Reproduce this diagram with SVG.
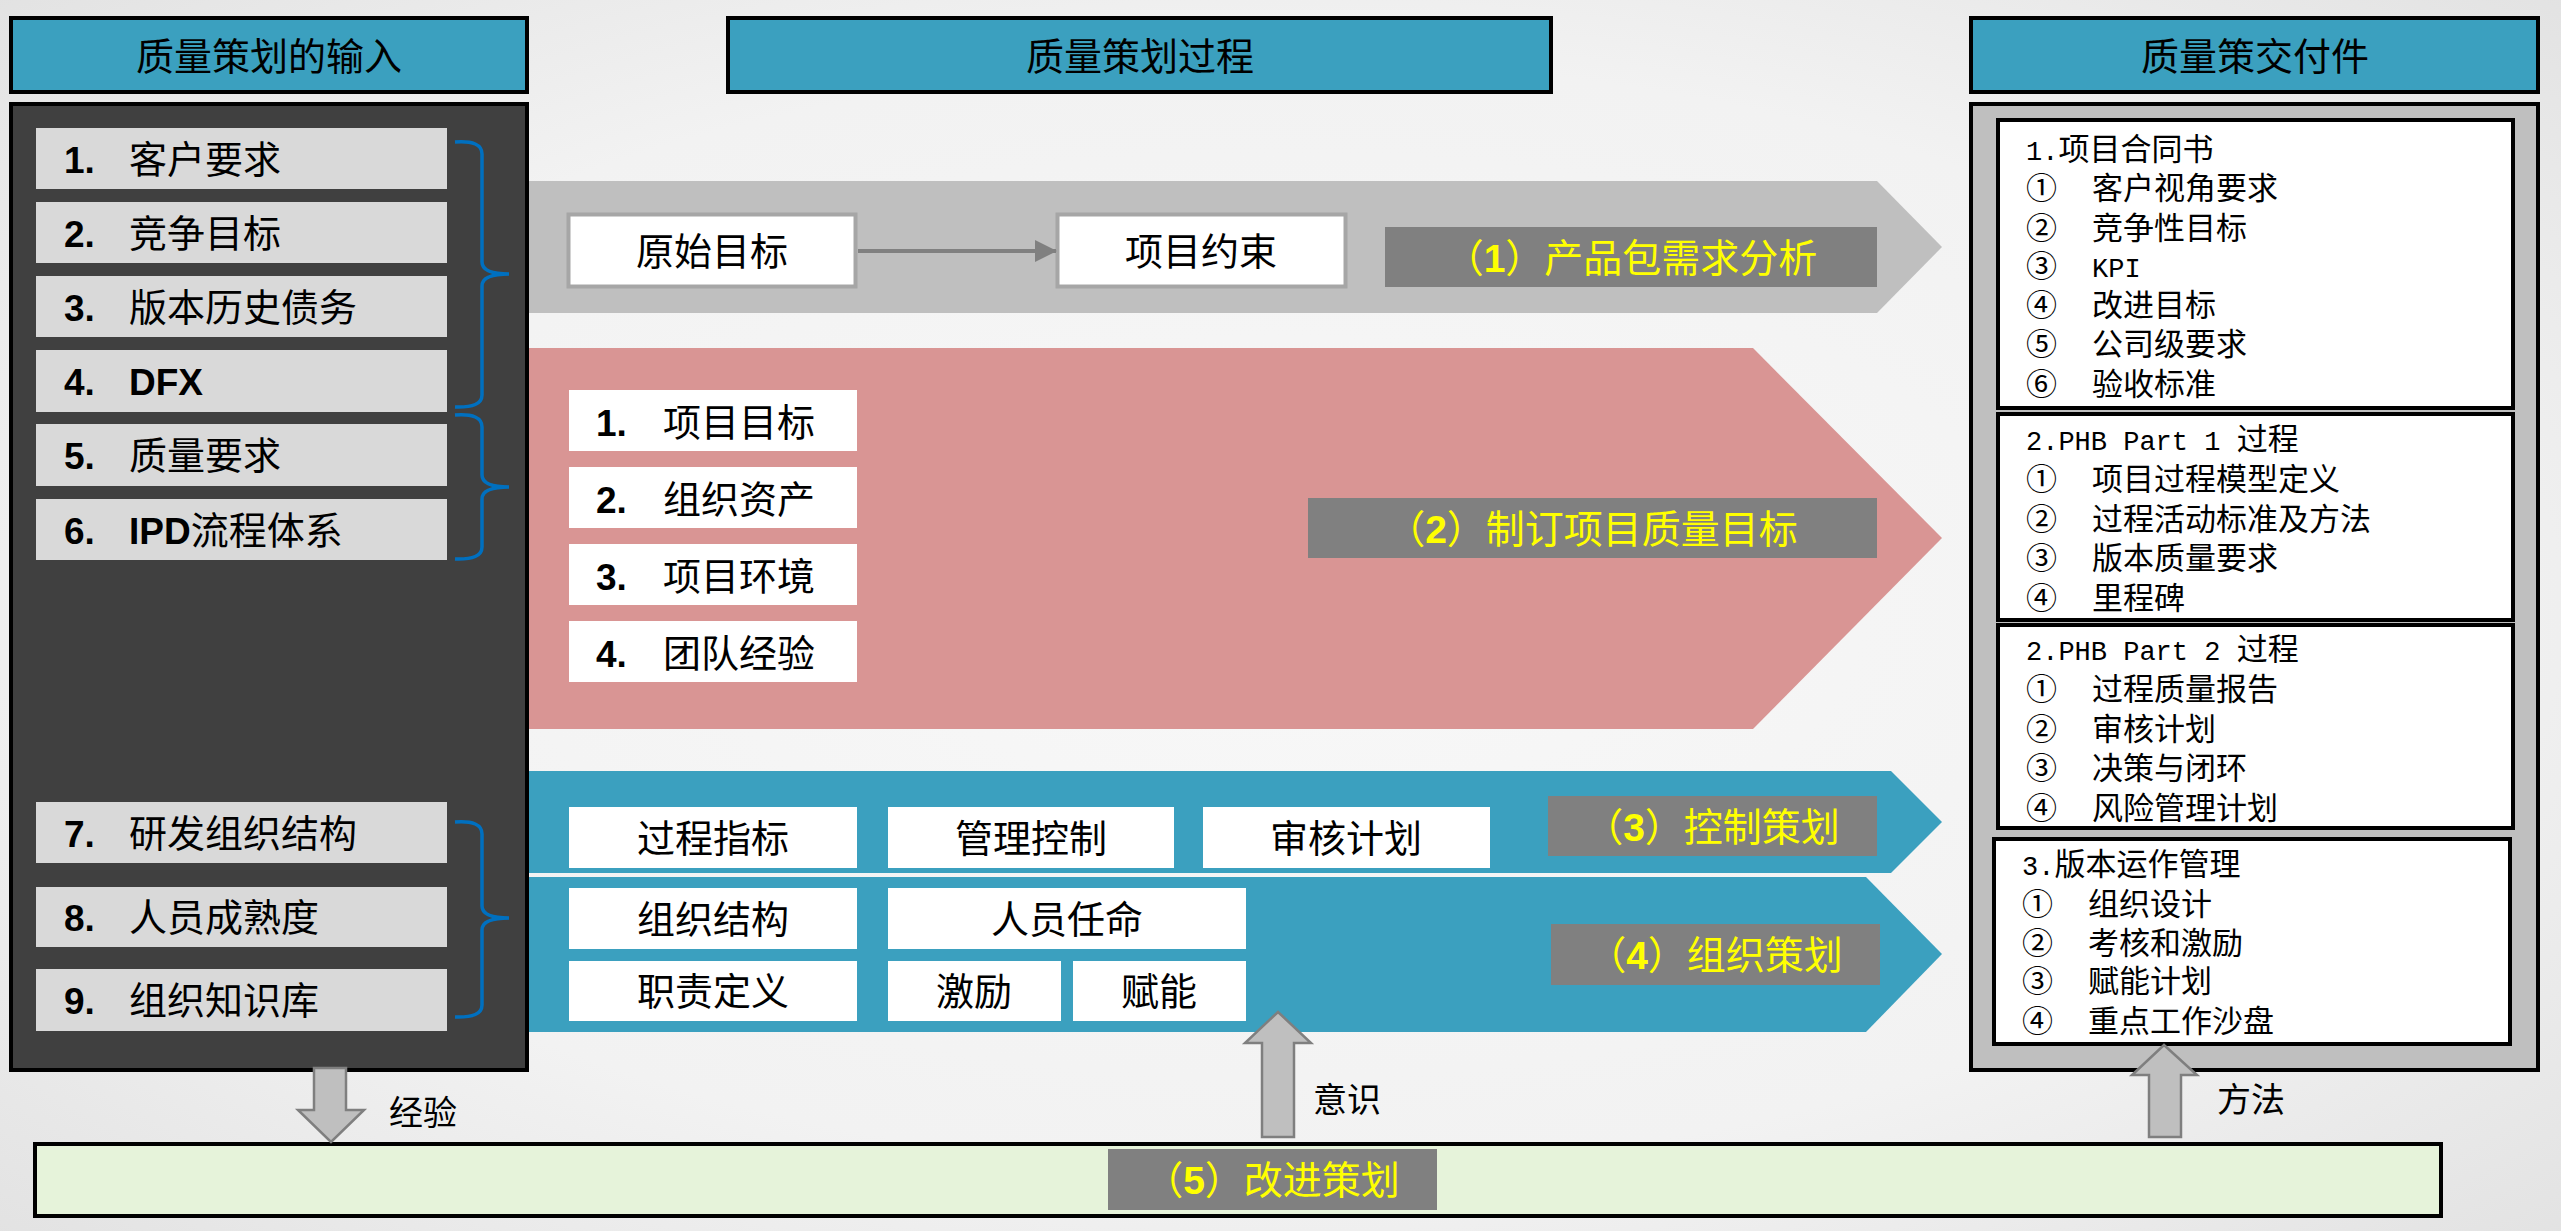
<svg xmlns="http://www.w3.org/2000/svg" width="2561" height="1231" viewBox="0 0 2561 1231">
<defs>
<radialGradient id="bg" cx="0.5" cy="0.5" r="0.75">
<stop offset="0" stop-color="#F8F8F8"/>
<stop offset="0.6" stop-color="#F2F2F2"/>
<stop offset="1" stop-color="#E0E0E0"/>
</radialGradient>
<marker id="ah" markerWidth="22" markerHeight="22" refX="21" refY="11" orient="auto" markerUnits="userSpaceOnUse">
<path d="M0,0 L22,11 L0,22 Z" fill="#808080"/>
</marker>
<style>
.cn{font-family:"Noto Sans CJK SC","Liberation Sans",sans-serif;fill:#000}
.hd{fill:#3BA0BF;stroke:#000;stroke-width:4}
.hdt{font-size:38px;text-anchor:middle}
.item{fill:#D9D9D9}
.it{font-size:38px}
.num{font-family:"Liberation Sans",Arial,sans-serif;font-weight:bold;font-size:37px}
.wb{fill:#FFFFFF}
.wt{font-size:38px;text-anchor:middle}
.lab{fill:#808080}
.lt{font-size:39px;text-anchor:middle;fill:#FFFF00}
.ln{font-family:"Liberation Sans",Arial,sans-serif;font-weight:bold;fill:#FFFF00}
.dbox{fill:#FFFFFF;stroke:#000;stroke-width:4}
.dt{font-size:31px}
.mono{font-family:"Liberation Mono","Courier New",monospace;font-size:27px}
.brace{fill:none;stroke:#0070C0;stroke-width:3.5}
.blk{fill:#BFBFBF;stroke:#7F7F7F;stroke-width:2.5}
.at{font-size:34px}
</style>
</defs>
<rect x="0" y="0" width="2561" height="1231" fill="url(#bg)"/>

<!-- process arrows -->
<g id="bands">
<polygon points="528,181 1877,181 1942,247 1877,313 528,313" fill="#BFBFBF"/>
<polygon points="528,348 1753,348 1942,538 1753,729 528,729" fill="#D99594"/>
<polygon points="528,771 1891,771 1942,822 1891,873 528,873" fill="#3BA0BF"/>
<polygon points="528,877 1866,877 1942,954 1866,1032 528,1032" fill="#3BA0BF"/>
</g>

<!-- headers -->
<g id="header-input"><rect class="hd" x="11" y="18" width="516" height="74"/><text class="cn hdt" x="269" y="70">质量策划的输入</text></g>
<g id="header-process"><rect class="hd" x="728" y="18" width="823" height="74"/><text class="cn hdt" x="1140" y="70">质量策划过程</text></g>
<g id="header-output"><rect class="hd" x="1971" y="18" width="567" height="74"/><text class="cn hdt" x="2255" y="70">质量策交付件</text></g>

<!-- input panel -->
<g id="input-panel">
<rect x="11" y="104" width="516" height="966" fill="#404040" stroke="#000" stroke-width="4"/>
<g id="in1"><rect class="item" x="36" y="128" width="411" height="61"/><text class="cn it" y="173"><tspan class="num" x="64">1.</tspan><tspan x="129">客户要求</tspan></text></g>
<g id="in2"><rect class="item" x="36" y="202" width="411" height="61"/><text class="cn it" y="247"><tspan class="num" x="64">2.</tspan><tspan x="129">竞争目标</tspan></text></g>
<g id="in3"><rect class="item" x="36" y="276" width="411" height="61"/><text class="cn it" y="321"><tspan class="num" x="64">3.</tspan><tspan x="129">版本历史债务</tspan></text></g>
<g id="in4"><rect class="item" x="36" y="350" width="411" height="62"/><text class="cn it" y="395"><tspan class="num" x="64">4.</tspan><tspan class="num" x="129">DFX</tspan></text></g>
<g id="in5"><rect class="item" x="36" y="424" width="411" height="62"/><text class="cn it" y="469"><tspan class="num" x="64">5.</tspan><tspan x="129">质量要求</tspan></text></g>
<g id="in6"><rect class="item" x="36" y="499" width="411" height="61"/><text class="cn it" y="544"><tspan class="num" x="64">6.</tspan><tspan class="num" x="129">IPD</tspan><tspan>流程体系</tspan></text></g>
<g id="in7"><rect class="item" x="36" y="802" width="411" height="61"/><text class="cn it" y="847"><tspan class="num" x="64">7.</tspan><tspan x="129">研发组织结构</tspan></text></g>
<g id="in8"><rect class="item" x="36" y="887" width="411" height="60"/><text class="cn it" y="931"><tspan class="num" x="64">8.</tspan><tspan x="129">人员成熟度</tspan></text></g>
<g id="in9"><rect class="item" x="36" y="969" width="411" height="62"/><text class="cn it" y="1014"><tspan class="num" x="64">9.</tspan><tspan x="129">组织知识库</tspan></text></g>
</g>

<!-- output panel -->
<g id="output-panel">
<rect x="1971" y="104" width="567" height="966" fill="#BFBFBF" stroke="#000" stroke-width="4"/>
<g id="out1"><rect class="dbox" x="1998" y="120" width="515" height="288"/>
<text class="cn dt"><tspan class="mono" x="2026" y="160">1.</tspan><tspan>项目合同书</tspan></text>
<text class="cn dt" y="199"><tspan x="2026">①</tspan><tspan x="2092">客户视角要求</tspan></text>
<text class="cn dt" y="239"><tspan x="2026">②</tspan><tspan x="2092">竞争性目标</tspan></text>
<text class="cn dt" y="277"><tspan x="2026">③</tspan><tspan x="2092" class="mono">KPI</tspan></text>
<text class="cn dt" y="316"><tspan x="2026">④</tspan><tspan x="2092">改进目标</tspan></text>
<text class="cn dt" y="355"><tspan x="2026">⑤</tspan><tspan x="2092">公司级要求</tspan></text>
<text class="cn dt" y="395"><tspan x="2026">⑥</tspan><tspan x="2092">验收标准</tspan></text>
</g>
<g id="out2"><rect class="dbox" x="1998" y="414" width="515" height="206"/>
<text class="cn dt" y="450"><tspan class="mono" x="2026">2.PHB Part 1 </tspan><tspan>过程</tspan></text>
<text class="cn dt" y="490"><tspan x="2026">①</tspan><tspan x="2092">项目过程模型定义</tspan></text>
<text class="cn dt" y="530"><tspan x="2026">②</tspan><tspan x="2092">过程活动标准及方法</tspan></text>
<text class="cn dt" y="569"><tspan x="2026">③</tspan><tspan x="2092">版本质量要求</tspan></text>
<text class="cn dt" y="609"><tspan x="2026">④</tspan><tspan x="2092">里程碑</tspan></text>
</g>
<g id="out3"><rect class="dbox" x="1998" y="625" width="515" height="203"/>
<text class="cn dt" y="660"><tspan class="mono" x="2026">2.PHB Part 2 </tspan><tspan>过程</tspan></text>
<text class="cn dt" y="700"><tspan x="2026">①</tspan><tspan x="2092">过程质量报告</tspan></text>
<text class="cn dt" y="740"><tspan x="2026">②</tspan><tspan x="2092">审核计划</tspan></text>
<text class="cn dt" y="779"><tspan x="2026">③</tspan><tspan x="2092">决策与闭环</tspan></text>
<text class="cn dt" y="819"><tspan x="2026">④</tspan><tspan x="2092">风险管理计划</tspan></text>
</g>
<g id="out4"><rect class="dbox" x="1994" y="839" width="516" height="205"/>
<text class="cn dt" y="875"><tspan class="mono" x="2022">3.</tspan><tspan>版本运作管理</tspan></text>
<text class="cn dt" y="915"><tspan x="2022">①</tspan><tspan x="2088">组织设计</tspan></text>
<text class="cn dt" y="954"><tspan x="2022">②</tspan><tspan x="2088">考核和激励</tspan></text>
<text class="cn dt" y="992"><tspan x="2022">③</tspan><tspan x="2088">赋能计划</tspan></text>
<text class="cn dt" y="1032"><tspan x="2022">④</tspan><tspan x="2088">重点工作沙盘</tspan></text>
</g>
</g>

<!-- band 1 -->
<g id="n-yuanshi"><rect x="568.5" y="214.5" width="287" height="72" fill="#FFFFFF" stroke="#A6A6A6" stroke-width="4"/><text class="cn wt" x="712" y="265">原始目标</text></g>
<g id="n-yueshu"><rect x="1057.5" y="214.5" width="288" height="72" fill="#FFFFFF" stroke="#A6A6A6" stroke-width="4"/><text class="cn wt" x="1201" y="265">项目约束</text></g>
<g id="label1"><rect class="lab" x="1385" y="227" width="492" height="60"/><text class="cn lt" x="1631" y="272">（<tspan class="ln">1</tspan>）产品包需求分析</text></g>

<!-- band 2 -->
<g id="p1"><rect class="wb" x="569" y="390" width="288" height="61"/><text class="cn it" y="436"><tspan class="num" x="596">1.</tspan><tspan x="663">项目目标</tspan></text></g>
<g id="p2"><rect class="wb" x="569" y="467" width="288" height="61"/><text class="cn it" y="513"><tspan class="num" x="596">2.</tspan><tspan x="663">组织资产</tspan></text></g>
<g id="p3"><rect class="wb" x="569" y="544" width="288" height="61"/><text class="cn it" y="590"><tspan class="num" x="596">3.</tspan><tspan x="663">项目环境</tspan></text></g>
<g id="p4"><rect class="wb" x="569" y="621" width="288" height="61"/><text class="cn it" y="667"><tspan class="num" x="596">4.</tspan><tspan x="663">团队经验</tspan></text></g>
<g id="label2"><rect class="lab" x="1308" y="498" width="569" height="60"/><text class="cn lt" x="1592" y="543">（<tspan class="ln">2</tspan>）制订项目质量目标</text></g>

<!-- band 3 -->
<g id="c1"><rect class="wb" x="569" y="807" width="288" height="61"/><text class="cn wt" x="713" y="852">过程指标</text></g>
<g id="c2"><rect class="wb" x="888" y="807" width="286" height="61"/><text class="cn wt" x="1031" y="852">管理控制</text></g>
<g id="c3"><rect class="wb" x="1203" y="807" width="287" height="61"/><text class="cn wt" x="1346" y="852">审核计划</text></g>
<g id="label3"><rect class="lab" x="1548" y="796" width="329" height="60"/><text class="cn lt" x="1712" y="841">（<tspan class="ln">3</tspan>）控制策划</text></g>

<!-- band 4 -->
<g id="o1"><rect class="wb" x="569" y="888" width="288" height="61"/><text class="cn wt" x="713" y="933">组织结构</text></g>
<g id="o2"><rect class="wb" x="888" y="888" width="358" height="61"/><text class="cn wt" x="1067" y="933">人员任命</text></g>
<g id="o3"><rect class="wb" x="569" y="961" width="288" height="60"/><text class="cn wt" x="713" y="1005">职责定义</text></g>
<g id="o4"><rect class="wb" x="888" y="961" width="173" height="60"/><text class="cn wt" x="974" y="1005">激励</text></g>
<g id="o5"><rect class="wb" x="1073" y="961" width="173" height="60"/><text class="cn wt" x="1159" y="1005">赋能</text></g>
<g id="label4"><rect class="lab" x="1551" y="924" width="329" height="61"/><text class="cn lt" x="1715" y="969">（<tspan class="ln">4</tspan>）组织策划</text></g>

<!-- improvement bar -->
<g id="improve">
<rect x="35" y="1144" width="2406" height="72" fill="#E6F3DA" stroke="#000" stroke-width="4"/>
<rect class="lab" x="1108" y="1149" width="329" height="61"/>
<text class="cn lt" x="1272" y="1194">（<tspan class="ln">5</tspan>）改进策划</text>
</g>

<!-- connectors -->
<g id="connectors">
<line x1="858" y1="251" x2="1056" y2="251" stroke="#808080" stroke-width="4" marker-end="url(#ah)"/>
<path class="brace" d="M455,142 Q482,140 482,154 L482,262 Q482,274 509,274 Q482,274 482,286 L482,395 Q482,408 455,407"/>
<path class="brace" d="M455,415 Q482,413 482,427 L482,475 Q482,487 509,487 Q482,487 482,499 L482,547 Q482,560 455,559"/>
<path class="brace" d="M455,822 Q482,820 482,834 L482,906 Q482,918 509,918 Q482,918 482,930 L482,1005 Q482,1018 455,1017"/>
<polygon class="blk" points="314,1068 346,1068 346,1110 364,1110 331,1142 298,1110 314,1110"/>
<polygon class="blk" points="1278,1012 1311,1043 1294,1043 1294,1137 1262,1137 1262,1043 1245,1043"/>
<polygon class="blk" points="2164,1045 2197,1075 2181,1075 2181,1137 2149,1137 2149,1075 2132,1075"/>
<text class="cn at" x="389" y="1125">经验</text>
<text class="cn at" x="1313" y="1112">意识</text>
<text class="cn at" x="2217" y="1112">方法</text>
</g>
</svg>
